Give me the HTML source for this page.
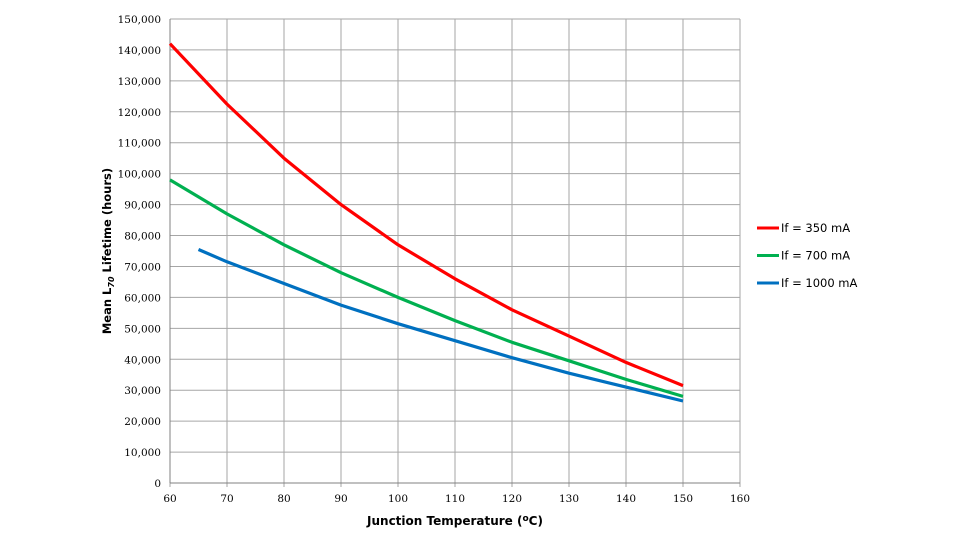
<!DOCTYPE html>
<html><head><meta charset="utf-8"><style>
body{margin:0;background:#fff;width:960px;height:541px;overflow:hidden;font-family:"DejaVu Sans","Liberation Sans",sans-serif}
</style></head><body>
<svg width="960" height="541" xmlns="http://www.w3.org/2000/svg">
<g id="grid"></g>
<g id="axes"></g>
<g id="series"></g>
<text x="455" y="525" text-anchor="middle" font-size="12" font-weight="bold" fill="#000">Junction Temperature (<tspan font-size="9" dy="-4">o</tspan><tspan dy="4">C)</tspan></text>
<text transform="translate(111,251) rotate(-90)" text-anchor="middle" font-size="11.5" font-weight="bold" fill="#000">Mean L<tspan font-size="8" dy="3" font-style="italic">70</tspan><tspan dy="-3"> Lifetime (hours)</tspan></text>
<g id="legend"></g>
</svg>
<script>
const xTicks=[60,70,80,90,100,110,120,130,140,150,160];
const yTicks=[0,10000,20000,30000,40000,50000,60000,70000,80000,90000,100000,110000,120000,130000,140000,150000];
const seriesNames=["If = 350 mA","If = 700 mA","If = 1000 mA"];
const redX=[60,70,80,90,100,110,120,130,140,150];
const redY=[142000,122500,105000,90000,77000,66000,56000,47500,39000,31500];
const greenX=[60,70,80,90,100,110,120,130,140,150];
const greenY=[98000,87000,77000,68000,60000,52500,45500,39500,33500,28000];
const blueX=[65,70,80,90,100,110,120,130,140,150];
const blueY=[75500,71500,64500,57500,51500,46000,40500,35500,31000,26500];
const colors=["#ff0000","#00b050","#0070c0"];
const NS="http://www.w3.org/2000/svg";
const X0=170,X1=740,Y0=483,Y1=19;
function sx(v){return X0+(v-60)/(160-60)*(X1-X0);}
function sy(v){return Y0-(v/150000)*(Y0-Y1);}
function mk(tag,attrs,parent){const e=document.createElementNS(NS,tag);for(const k in attrs)e.setAttribute(k,attrs[k]);parent.appendChild(e);return e;}
const grid=document.getElementById('grid'),axes=document.getElementById('axes'),ser=document.getElementById('series'),leg=document.getElementById('legend');
yTicks.forEach(t=>{
 const l=mk('line',{x1:X0,x2:X1,y1:sy(t),y2:sy(t),stroke:'#a6a6a6','stroke-width':1},grid);
 
 
 const tx=mk('text',{x:X0-9,y:sy(t)+4,'text-anchor':'end','font-size':10.5,fill:'#000','font-family':'"DejaVu Serif","Liberation Serif",serif'},axes);
 tx.textContent=t.toLocaleString('en-US');
 
 
});
xTicks.forEach(t=>{
 const l=mk('line',{x1:sx(t),x2:sx(t),y1:Y1,y2:Y0+4,stroke:'#a6a6a6','stroke-width':1},grid);
 
 
 const tx=mk('text',{x:sx(t),y:Y0+19,'text-anchor':'middle','font-size':10.5,fill:'#000','font-family':'"DejaVu Serif","Liberation Serif",serif'},axes);
 tx.textContent=t;
 
 
});
const yl=mk('line',{x1:X0,x2:X0,y1:Y1,y2:Y0,stroke:'#808080'},axes);


const xl=mk('line',{x1:X0,x2:X1,y1:Y0,y2:Y0,stroke:'#808080'},axes);


const all=[[redX,redY],[greenX,greenY],[blueX,blueY]];
const names=['line-350ma','line-700ma','line-1000ma'];
all.forEach((s,i)=>{
 const d=s[0].map((x,j)=>(j?'L':'M')+sx(x).toFixed(1)+','+sy(s[1][j]).toFixed(1)).join(' ');
 const p=mk('path',{d:d,fill:'none',stroke:colors[i],'stroke-width':3.2,'stroke-linejoin':'round'},ser);
 
 
 const ly=228+i*27.5;
 const g=mk('g',{},leg);
 
 
 mk('line',{x1:757,x2:779,y1:ly,y2:ly,stroke:colors[i],'stroke-width':3},g);
 const t=mk('text',{x:781,y:ly+4,'font-size':11.5,fill:'#000'},g);
 t.textContent=seriesNames[i];
});
</script>
</body></html>
